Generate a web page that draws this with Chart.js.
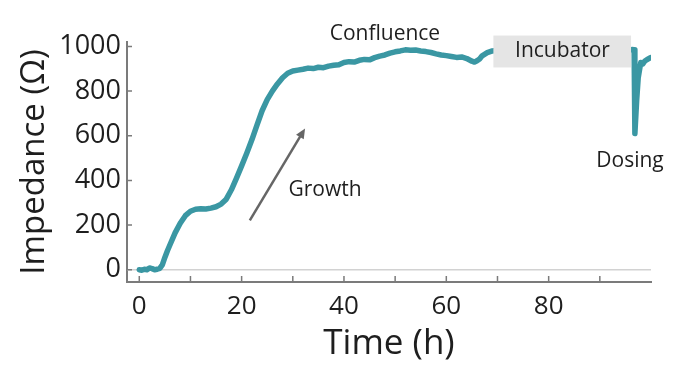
<!DOCTYPE html>
<html>
<head>
<meta charset="utf-8">
<script src="https://cdn.jsdelivr.net/npm/chart.js@4.4.0/dist/chart.umd.min.js"></script>
<style>
  html, body { margin: 0; padding: 0; background: #fff; }
  #wrap { width: 700px; height: 370px; position: relative; }
</style>
</head>
<body>
<div id="wrap"><canvas id="impedance-chart"></canvas></div>
<script>
// Impedance trace (time in hours, impedance in ohm)
const timeHours = [0, 0.5, 1, 1.5, 2, 2.5, 3, 3.5, 4, 4.5, 5, 5.5, 6, 7, 8, 9, 10, 11, 12, 13, 14, 15, 16, 17, 18, 19,
    20, 21, 22, 23, 24, 25, 26, 27, 28, 29, 30, 31, 32, 33, 34, 35, 36, 37, 38, 39, 40, 41, 42, 43, 44, 45, 46, 47, 48, 49,
    50, 51, 52, 53, 54, 55, 56, 57, 58, 59, 60, 61, 62, 63, 64, 65, 65.5, 66, 66.5, 67, 68, 69, 70, 72, 74, 76, 78, 80,
    82, 84, 86, 88, 90, 92, 94, 96, 96.5, 96.7, 96.85, 97.2, 97.5, 98, 98.4, 98.8, 99.3, 99.9];
const impedanceOhm = [0, -2, 2, 0, 8, 5, 0, 2, 6, 22, 55, 85, 112, 165, 208, 242, 262, 271, 273, 272, 276, 282, 294, 316, 358, 410,
    465, 522, 582, 648, 712, 762, 800, 832, 860, 880, 890, 894, 898, 903, 901, 907, 905, 912, 916, 918, 928, 932, 930, 938, 942, 940, 950, 957, 962, 970,
    976, 980, 985, 983, 984, 980, 977, 973, 967, 962, 959, 955, 951, 953, 946, 934, 930, 936, 944, 958, 972, 980, 983, 985, 985, 984, 985, 985,
    986, 985, 984, 985, 985, 985, 985, 985, 986, 985, 610, 760, 860, 928, 922, 935, 942, 950];

// Axis ticks
const xTickMarks = [0, 10, 20, 30, 40, 50, 60, 70, 80, 90];
const xTickLabels = [0, 20, 40, 60, 80];
const yTickLabels = [0, 200, 400, 600, 800, 1000];

// Annotations (data coordinates)
const noteTexts = ['Confluence', 'Incubator', 'Dosing', 'Growth'];
const noteX = [48, 82.7, 95.9, 36.3];
const noteY = [1058, 978, 489, 355];
const incubatorBox = { x0: 69.2, x1: 96.1, y0: 906, y1: 1049 };
const growthArrow = { x0: 21.6, y0: 221, x1: 32.4, y1: 633 };

const lineColor = '#3a97a3';
const axisColor = '#7b7b7b';
const textColor = '#1e1e1e';
const fontFamily = '"Open Sans", "Noto Sans", sans-serif';

const decorPlugin = {
    id: 'decor',
    beforeDatasetsDraw(chart) {
        const { ctx, chartArea, scales: { y } } = chart;
        ctx.save();
        // light zero line
        const y0 = y.getPixelForValue(0);
        ctx.strokeStyle = '#d2d2d2';
        ctx.lineWidth = 1.5;
        ctx.beginPath();
        ctx.moveTo(chartArea.left, y0);
        ctx.lineTo(chartArea.right, y0);
        ctx.stroke();
        ctx.restore();
    },
    afterDatasetsDraw(chart) {
        const { ctx, chartArea, scales: { x, y } } = chart;
        ctx.save();
        // incubator box
        const bx0 = x.getPixelForValue(incubatorBox.x0);
        const bx1 = x.getPixelForValue(incubatorBox.x1);
        const by0 = y.getPixelForValue(incubatorBox.y1);
        const by1 = y.getPixelForValue(incubatorBox.y0);
        ctx.fillStyle = '#e5e5e5';
        ctx.fillRect(bx0, by0, bx1 - bx0, by1 - by0);

        // inward tick marks
        ctx.strokeStyle = axisColor;
        ctx.lineWidth = 1.5;
        ctx.beginPath();
        xTickMarks.forEach(v => {
            const px = x.getPixelForValue(v);
            ctx.moveTo(px, chartArea.bottom);
            ctx.lineTo(px, chartArea.bottom - 6);
        });
        yTickLabels.forEach(v => {
            const py = y.getPixelForValue(v);
            ctx.moveTo(chartArea.left, py);
            ctx.lineTo(chartArea.left + 5, py);
        });
        ctx.stroke();

        // growth arrow
        const ax0 = x.getPixelForValue(growthArrow.x0), ay0 = y.getPixelForValue(growthArrow.y0);
        const ax1 = x.getPixelForValue(growthArrow.x1), ay1 = y.getPixelForValue(growthArrow.y1);
        const ang = Math.atan2(ay1 - ay0, ax1 - ax0);
        const head = 11;
        ctx.strokeStyle = '#666';
        ctx.fillStyle = '#666';
        ctx.lineWidth = 2.5;
        ctx.beginPath();
        ctx.moveTo(ax0, ay0);
        ctx.lineTo(ax1 - Math.cos(ang) * head * 0.8, ay1 - Math.sin(ang) * head * 0.8);
        ctx.stroke();
        ctx.beginPath();
        ctx.moveTo(ax1, ay1);
        ctx.lineTo(ax1 - head * Math.cos(ang - 0.42), ay1 - head * Math.sin(ang - 0.42));
        ctx.lineTo(ax1 - head * Math.cos(ang + 0.42), ay1 - head * Math.sin(ang + 0.42));
        ctx.closePath();
        ctx.fill();

        // labels
        ctx.fillStyle = textColor;
        ctx.font = '21px ' + fontFamily;
        ctx.textAlign = 'center';
        ctx.textBaseline = 'middle';
        noteTexts.forEach((t, i) => {
            ctx.fillText(t, x.getPixelForValue(noteX[i]), y.getPixelForValue(noteY[i]));
        });
        ctx.restore();
    }
};

const ctx = document.getElementById('impedance-chart').getContext('2d');
new Chart(ctx, {
    type: 'line',
    data: {
        datasets: [{
            data: timeHours.map((t, i) => ({ x: t, y: impedanceOhm[i] })),
            borderColor: lineColor,
            borderWidth: 5.5,
            borderCapStyle: 'round',
            borderJoinStyle: 'round',
            pointRadius: 0,
            tension: 0,
            fill: false
        }]
    },
    options: {
        responsive: true,
        maintainAspectRatio: false,
        animation: false,
        layout: { padding: { top: 42, right: 49, left: 0, bottom: 0 } },
        plugins: {
            legend: { display: false },
            tooltip: { enabled: false }
        },
        scales: {
            x: {
                type: 'linear',
                min: -2.4,
                max: 100,
                grid: { display: false, drawTicks: false },
                border: { display: true, color: axisColor, width: 2 },
                afterBuildTicks: s => { s.ticks = xTickLabels.map(v => ({ value: v })); },
                ticks: {
                    autoSkip: false,
                    maxRotation: 0,
                    padding: 9,
                    color: textColor,
                    font: { family: fontFamily, size: 26 },
                    callback: v => String(v)
                },
                title: {
                    display: true,
                    text: 'Time (h)',
                    color: textColor,
                    font: { family: fontFamily, size: 35 },
                    padding: { top: 0, bottom: 5 }
                },
                afterFit: s => { s.height = 88; }
            },
            y: {
                min: -55,
                max: 1020,
                grid: { display: false, drawTicks: false },
                border: { display: true, color: axisColor, width: 2 },
                afterBuildTicks: s => { s.ticks = yTickLabels.map(v => ({ value: v })); },
                ticks: {
                    autoSkip: false,
                    padding: 6,
                    color: textColor,
                    font: { family: fontFamily, size: 27 },
                    callback: v => String(v)
                },
                title: {
                    display: true,
                    text: 'Impedance (Ω)',
                    color: textColor,
                    font: { family: fontFamily, size: 33 },
                    padding: { top: 15, bottom: 0 }
                },
                afterFit: s => { s.width = 127; }
            }
        }
    },
    plugins: [decorPlugin]
});
</script>
</body>
</html>
